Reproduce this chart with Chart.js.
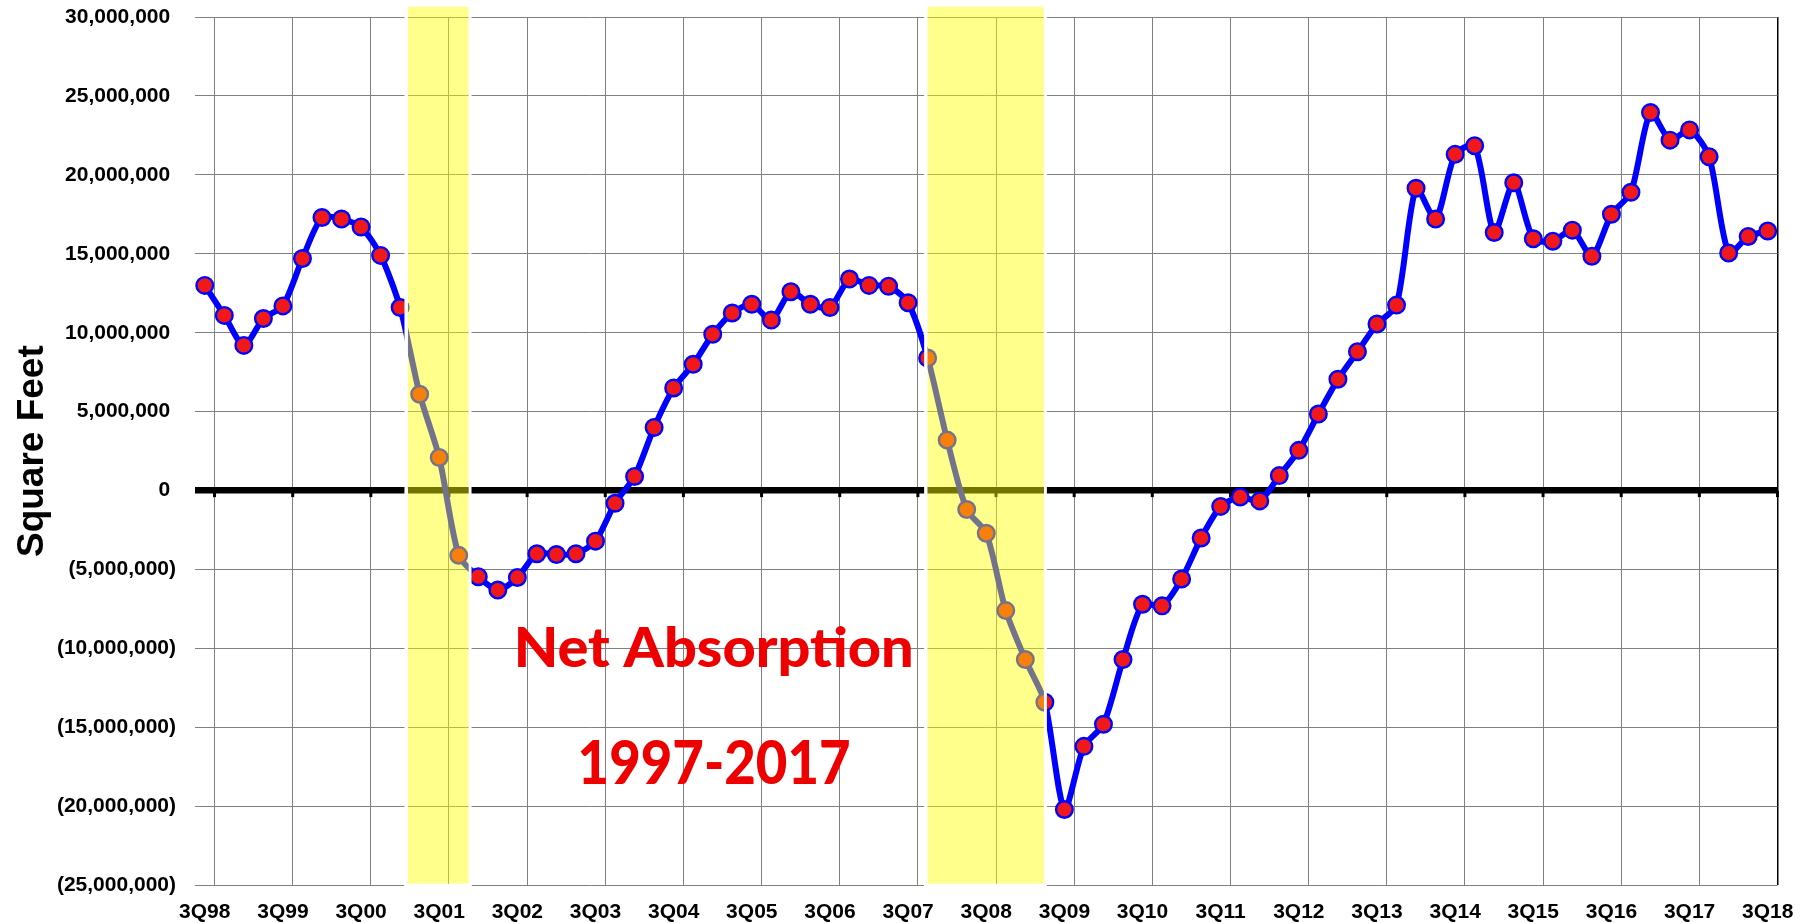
<!DOCTYPE html>
<html><head><meta charset="utf-8">
<script src="https://cdn.jsdelivr.net/npm/chart.js@4.4.1/dist/chart.umd.min.js"></script>
<style>html,body{margin:0;padding:0;background:#fff}#wrap{width:1811px;height:923px;position:relative}</style>
</head><body><div id="wrap"><canvas id="c"></canvas></div>
<script>
const categories = ['3Q98','4Q98','1Q99','2Q99','3Q99','4Q99','1Q00','2Q00','3Q00','4Q00',
'1Q01','2Q01','3Q01','4Q01','1Q02','2Q02','3Q02','4Q02','1Q03','2Q03','3Q03','4Q03',
'1Q04','2Q04','3Q04','4Q04','1Q05','2Q05','3Q05','4Q05','1Q06','2Q06','3Q06','4Q06',
'1Q07','2Q07','3Q07','4Q07','1Q08','2Q08','3Q08','4Q08','1Q09','2Q09','3Q09','4Q09',
'1Q10','2Q10','3Q10','4Q10','1Q11','2Q11','3Q11','4Q11','1Q12','2Q12','3Q12','4Q12',
'1Q13','2Q13','3Q13','4Q13','1Q14','2Q14','3Q14','4Q14','1Q15','2Q15','3Q15','4Q15',
'1Q16','2Q16','3Q16','4Q16','1Q17','2Q17','3Q17','4Q17','1Q18','2Q18','3Q18'];

const netAbsorption = [
 13000000, 11100000, 9200000, 10900000, 11700000, 14700000, 17300000, 17200000, 16700000, 14900000,
 11600000, 6100000, 2100000, -4100000, -5450000, -6300000, -5500000, -4000000, -4050000, -4000000,
 -3200000, -800000, 900000, 4000000, 6500000, 8000000, 9900000, 11250000, 11800000, 10800000,
 12600000, 11800000, 11600000, 13400000, 13000000, 12950000, 11900000, 8400000, 3200000, -1200000,
 -2700000, -7600000, -10700000, -13400000, -20200000, -16200000, -14800000, -10700000, -7200000, -7300000,
 -5600000, -3000000, -1000000, -400000, -650000, 950000, 2550000, 4850000, 7050000, 8800000,
 10550000, 11750000, 19150000, 17200000, 21300000, 21850000, 16350000, 19500000, 15950000, 15800000,
 16500000, 14850000, 17500000, 18900000, 23950000, 22200000, 22850000, 21150000, 15050000, 16100000,
 16450000];

const yTickValues = [-25000000, -20000000, -15000000, -10000000, -5000000, 0, 5000000, 10000000, 15000000, 20000000, 25000000, 30000000];

// recession shading, in category-index units
const recessionStart = [10.4, 37.0];
const recessionEnd = [13.5, 42.95];

const annotationText = ['Net Absorption', '1997-2017'];

function fmt(n){ return Math.round(n).toString().replace(/\B(?=(\d{3})+(?!\d))/g, ','); }

const bandPlugin = {
  id: 'bands',
  afterDatasetsDraw(chart){
    const {ctx, chartArea, scales:{x}} = chart;
    const top = chartArea.top - 10.3, bottom = chartArea.bottom - 1.6;
    ctx.save();
    for (let k = 0; k < recessionStart.length; k++){
      const x1 = x.getPixelForValue(recessionStart[k]);
      const x2 = x.getPixelForValue(recessionEnd[k]);
      ctx.fillStyle = '#ffffff';
      ctx.fillRect(x1 - 3.5, top, 3.5, bottom - top + 4);
      ctx.fillRect(x2, top, 3, bottom - top + 4);
      ctx.fillRect(x1 - 3.5, bottom, x2 - x1 + 6.5, 4);
      ctx.fillStyle = 'rgba(255,255,0,0.45)';
      ctx.fillRect(x1, top, x2 - x1, bottom - top);
    }
    ctx.restore();
  },
  afterDraw(chart){
    const {ctx, scales:{x,y}} = chart;
    const fonts = ['900 56px Lato', '900 60px Lato'];
    const widths = [400, 273];
    const centreIdx = [26.05, 26.07];
    const baseVal = [-11.17e6, -18.56e6];
    ctx.save();
    ctx.fillStyle = '#EE0000';
    ctx.textAlign = 'center';
    ctx.textBaseline = 'alphabetic';
    for (let k = 0; k < annotationText.length; k++){
      ctx.font = fonts[k];
      const w = ctx.measureText(annotationText[k]).width;
      const sx = widths[k] / w;
      ctx.save();
      ctx.translate(x.getPixelForValue(centreIdx[k]), y.getPixelForValue(baseVal[k]));
      ctx.scale(sx, 1);
      ctx.fillText(annotationText[k], 0, 0);
      ctx.restore();
    }
    ctx.restore();
  }
};

const zeroPlugin = {
  id: 'zeroTicks',
  beforeDatasetsDraw(chart){
    const {ctx, scales:{x,y}} = chart;
    const y0 = y.getPixelForValue(0);
    const half = (x.getPixelForValue(1) - x.getPixelForValue(0)) / 2;
    ctx.save();
    ctx.fillStyle = '#000';
    for (let i = 1; i <= categories.length; i += 4){
      const px = x.getPixelForValue(i) - half;
      ctx.fillRect(px - 1.5, y0, 3, 6.5);
    }
    ctx.restore();
  }
};

new Chart(document.getElementById('c'), {
  type: 'line',
  data: {
    labels: categories,
    datasets: [{
      data: netAbsorption,
      borderColor: '#0000FF',
      borderWidth: 6,
      tension: 0.25,
      pointRadius: 8.3,
      pointHoverRadius: 8.3,
      pointBorderWidth: 2.4,
      pointBackgroundColor: '#F01818',
      pointBorderColor: '#0000FF'
    }]
  },
  options: {
    responsive: true,
    maintainAspectRatio: false,
    animation: false,
    events: [],
    layout: { padding: { top: 17, right: 33.5, bottom: 0, left: 0 } },
    plugins: { legend: { display: false }, tooltip: { enabled: false } },
    scales: {
      x: {
        type: 'category',
        offset: true,
        border: { display: false },
        afterFit: (s) => { s.height = 37.7; s.paddingLeft = 0; s.paddingRight = 0; },
        grid: {
          offset: true,
          drawTicks: false,
          lineWidth: (c) => (c.index === undefined ? 1.5 : 1),
          color: (c) => {
            if (c.index === undefined) return '#000';
            return (c.index % 4 === 1) ? '#808080' : 'rgba(0,0,0,0)';
          }
        },
        ticks: {
          autoSkip: false,
          maxRotation: 0,
          padding: 14,
          color: '#000',
          font: { family: 'Liberation Sans, Arial, sans-serif', size: 21, weight: 'bold' },
          callback: function(v, i){ return i % 4 === 0 ? categories[i] : ''; }
        }
      },
      y: {
        min: yTickValues[0],
        max: yTickValues[yTickValues.length - 1],
        border: { display: false },
        afterFit: (s) => { s.width = 195; s.paddingTop = 0; s.paddingBottom = 0; },
        afterBuildTicks: (s) => { s.ticks = yTickValues.map(v => ({ value: v })); },
        grid: {
          drawTicks: false,
          color: (c) => (c.tick && c.tick.value === 0 ? '#000' : '#808080'),
          lineWidth: (c) => (c.tick && c.tick.value === 0 ? 6.5 : 1)
        },
        ticks: {
          padding: 19,
          color: '#000',
          font: { family: 'Liberation Sans, Arial, sans-serif', size: 21, weight: 'bold' },
          callback: (v) => v < 0 ? '(' + fmt(-v) + ')' : fmt(v) + ' '
        },
        title: {
          display: true,
          text: 'Square Feet',
          color: '#000',
          font: { family: 'Liberation Sans, Arial, sans-serif', size: 37, weight: 'bold' },
          padding: { top: 10.5, bottom: 2 }
        }
      }
    }
  },
  plugins: [zeroPlugin, bandPlugin]
});
</script></body></html>
